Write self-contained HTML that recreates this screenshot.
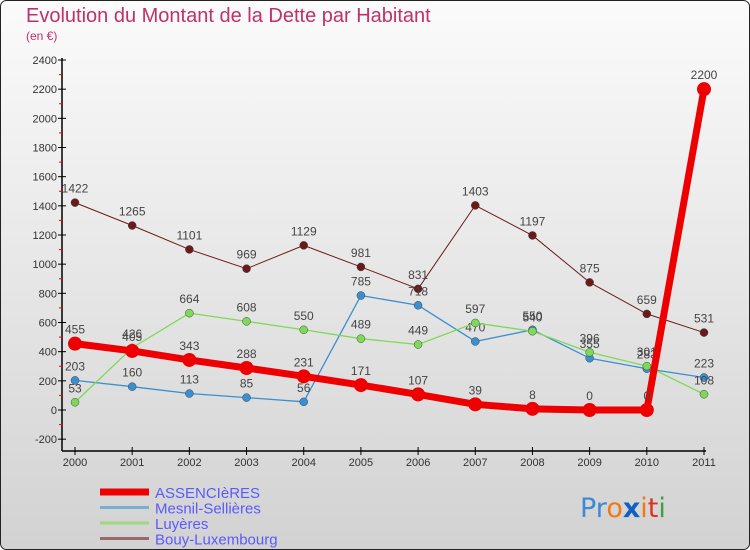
<!DOCTYPE html>
<html><head><meta charset="utf-8"><style>
body{margin:0;width:750px;height:550px;overflow:hidden}
svg{display:block;font-family:"Liberation Sans",sans-serif}
</style></head><body>
<svg id="c" width="750" height="550">
<defs><linearGradient id="bg" x1="0" y1="0" x2="0" y2="1"><stop offset="0" stop-color="#fbfbfb"/><stop offset="1" stop-color="#d2d2d2"/></linearGradient></defs>
<rect x="0.5" y="0.5" width="749" height="549" rx="6" fill="url(#bg)" stroke="#222"/>
<text x="26" y="22" font-size="20" fill="#c0306a">Evolution du Montant de la Dette par Habitant</text>
<text x="26" y="40" font-size="12" fill="#c0306a">(en €)</text>
<g id="axes"></g><g id="series"></g><g id="legend"></g>
<text x="580" y="517" font-size="27" font-family="'DejaVu Sans',sans-serif"><tspan fill="#3a8ad6">Pr</tspan><tspan fill="#f07a10">o</tspan><tspan fill="#1060c0" font-weight="bold">x</tspan><tspan fill="#f07a10">i</tspan><tspan fill="#e03020">t</tspan><tspan fill="#40a040">i</tspan></text>
</svg>
<script>
const years=[2000,2001,2002,2003,2004,2005,2006,2007,2008,2009,2010,2011];
const yTicks=[-200,0,200,400,600,800,1000,1200,1400,1600,1800,2000,2200,2400];
const assencieres=[455,405,343,288,231,171,107,39,8,0,0,2200];
const mesnil=[203,160,113,85,56,785,718,470,550,355,283,223];
const luyeres=[53,426,664,608,550,489,449,597,540,396,301,108];
const bouy=[1422,1265,1101,969,1129,981,831,1403,1197,875,659,531];
const NS="http://www.w3.org/2000/svg";
const x=i=>75+i*(704-75)/11;
const y=v=>410-v*350/2400;
function el(t,a,p){const e=document.createElementNS(NS,t);for(const k in a)e.setAttribute(k,a[k]);p.appendChild(e);return e;}
const ax=document.getElementById('axes');
let a=el('line',{x1:62,y1:58,x2:62,y2:451,stroke:'#000','stroke-width':1.5},ax);


a=el('line',{x1:62,y1:451,x2:706,y2:451,stroke:'#000','stroke-width':1.5},ax);


yTicks.forEach((v,i)=>{
 el('line',{x1:58,x2:66,y1:y(v),y2:y(v),stroke:'#000'},ax);
 if(i<yTicks.length-1) el('line',{x1:59,x2:63,y1:y(v+100),y2:y(v+100),stroke:'#e00'},ax);
 const t=el('text',{x:57,y:y(v)+4,'text-anchor':'end','font-size':11,fill:'#333'},ax);
 t.textContent=v;
 
 
});
years.forEach((yr,i)=>{
 el('line',{x1:x(i),x2:x(i),y1:447,y2:455,stroke:'#000'},ax);
 const t=el('text',{x:x(i),y:466,'text-anchor':'middle','font-size':11,fill:'#333'},ax);
 t.textContent=yr;
 
 
});
const S=document.getElementById('series');
function draw(vals,color,w,r,name){
 const g=el('g',{},S);
 
 
 el('polyline',{points:vals.map((v,i)=>x(i)+','+y(v)).join(' '),fill:'none',stroke:color,'stroke-width':w,'stroke-linejoin':'round'},g);
 vals.forEach((v,i)=>{
  const c=el('circle',{cx:x(i),cy:y(v),r:r,fill:color,stroke:r>5?'none':'#444','stroke-width':0.5},g);
  
  
  const t=el('text',{x:x(i),y:y(v)-10,'text-anchor':'middle','font-size':12,fill:'#444'},g);
  t.textContent=v;
  
  
 });
}
draw(bouy,'#6b1a1a',1,4,'bouy-luxembourg');
draw(mesnil,'#3b8fd0',1.3,4,'mesnil-sellieres');
draw(luyeres,'#7ed957',1.3,4,'luyeres');
draw(assencieres,'#ee0000',7,7,'assencieres');
const L=document.getElementById('legend');
[['ASSENCIèRES','#ee0000',7],['Mesnil-Sellières','#7aaed0',3],['Luyères','#9ed880',3],['Bouy-Luxembourg','#9a6868',3]].forEach((d,i)=>{
 const yy=492+i*15.5;
 const g=el('g',{},L);
 
 
 el('line',{x1:100,x2:149,y1:yy,y2:yy,stroke:d[1],'stroke-width':d[2]},g);
 const t=el('text',{x:155,y:yy+6,'font-size':15,fill:'#5a5aff'},g);
 t.textContent=d[0];
});
</script>
</body></html>
